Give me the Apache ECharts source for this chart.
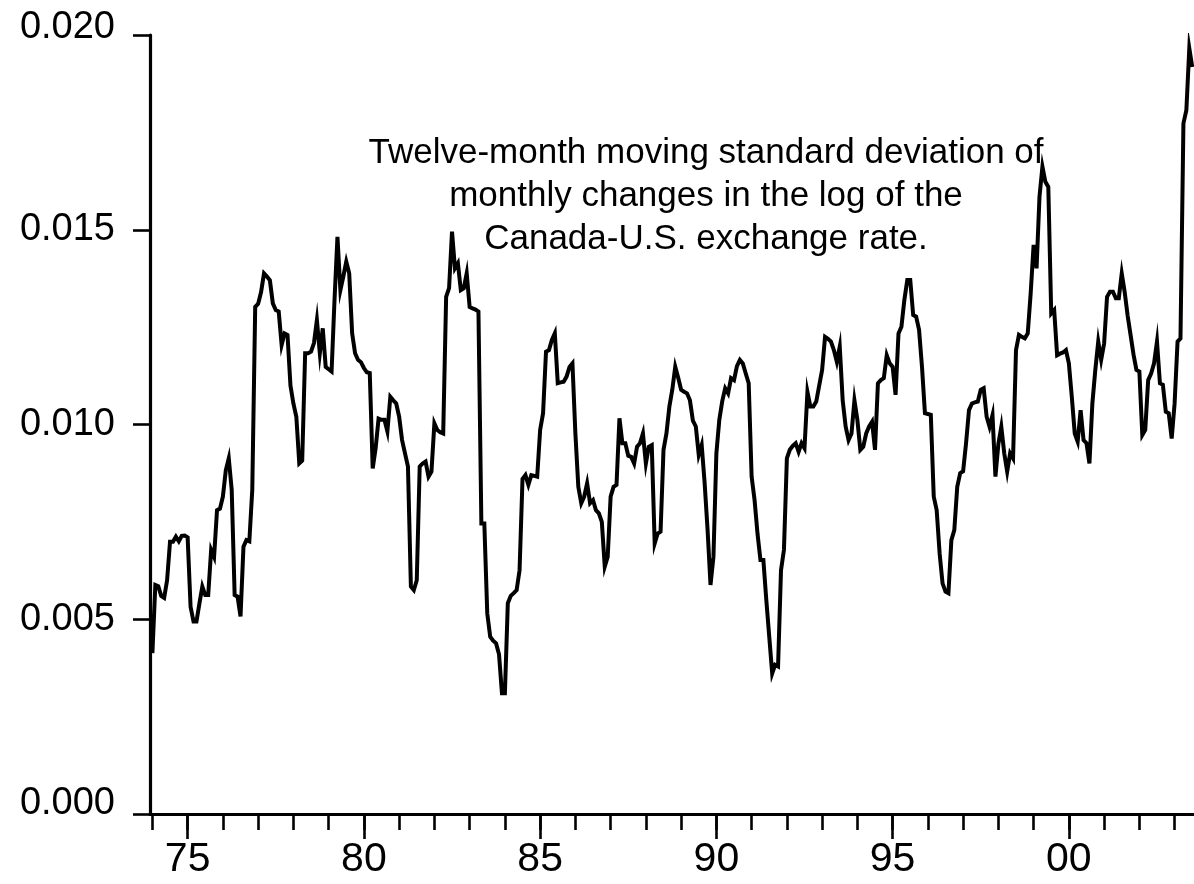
<!DOCTYPE html>
<html>
<head>
<meta charset="utf-8">
<script src="https://cdn.jsdelivr.net/npm/echarts@6/dist/echarts.min.js"></script>
<style>
html,body{margin:0;padding:0;background:#ffffff;}
#chart{width:1194px;height:884px;}
</style>
</head>
<body>
<div id="chart"></div>
<script>
// Monthly data, first observation 1974M1
const startYear = 1974;

// Twelve-month moving standard deviation
const stdev = [
0.00413,0.00588,0.00585,0.00560,0.00555,0.00600,0.00699,0.00699,0.00712,0.00700,0.00714,0.00715,
0.00710,0.00532,0.00494,0.00494,0.00540,0.00584,0.00562,0.00562,0.00678,0.00660,0.00780,0.00784,
0.00815,0.00883,0.00913,0.00832,0.00562,0.00558,0.00507,0.00686,0.00703,0.00700,0.00832,0.01302,
0.01310,0.01340,0.01388,0.01380,0.01370,0.01311,0.01294,0.01290,0.01204,0.01234,0.01230,0.01100,
0.01054,0.01020,0.00900,0.00907,0.01183,0.01183,0.01187,0.01209,0.01268,0.01183,0.01247,0.01148,
0.01142,0.01136,0.01320,0.01482,0.01345,0.01380,0.01418,0.01388,0.01234,0.01183,0.01166,0.01160,
0.01145,0.01134,0.01132,0.00887,0.00939,0.01015,0.01012,0.01012,0.00982,0.01071,0.01062,0.01054,
0.01020,0.00960,0.00926,0.00892,0.00584,0.00575,0.00600,0.00892,0.00900,0.00905,0.00866,0.00879,
0.01003,0.00986,0.00980,0.00977,0.01328,0.01350,0.01495,0.01401,0.01414,0.01345,0.01350,0.01388,
0.01302,0.01298,0.01295,0.01290,0.00746,0.00746,0.00515,0.00455,0.00445,0.00438,0.00410,0.00310,
0.00310,0.00541,0.00560,0.00567,0.00575,0.00626,0.00860,0.00870,0.00845,0.00870,0.00868,0.00866,
0.00986,0.01029,0.01187,0.01191,0.01217,0.01234,0.01106,0.01108,0.01110,0.01123,0.01148,0.01157,
0.00977,0.00840,0.00798,0.00815,0.00849,0.00798,0.00806,0.00780,0.00772,0.00750,0.00635,0.00660,
0.00815,0.00840,0.00845,0.01016,0.00952,0.00952,0.00920,0.00917,0.00900,0.00943,0.00952,0.00977,
0.00900,0.00943,0.00947,0.00695,0.00720,0.00725,0.00935,0.00977,0.01046,0.01090,0.01148,0.01120,
0.01089,0.01084,0.01080,0.01062,0.01010,0.00995,0.00922,0.00947,0.00850,0.00730,0.00588,0.00660,
0.00926,0.01012,0.01060,0.01093,0.01080,0.01119,0.01114,0.01150,0.01166,0.01157,0.01131,0.01106,
0.00866,0.00806,0.00720,0.00652,0.00652,0.00549,0.00455,0.00361,0.00383,0.00379,0.00626,0.00678,
0.00913,0.00935,0.00945,0.00952,0.00930,0.00952,0.00939,0.01084,0.01046,0.01046,0.01059,0.01100,
0.01140,0.01225,0.01220,0.01213,0.01191,0.01161,0.01200,0.01062,0.00995,0.00960,0.00977,0.01062,
0.01012,0.00935,0.00943,0.00977,0.00995,0.01007,0.00935,0.01106,0.01114,0.01119,0.01178,0.01157,
0.01148,0.01076,0.01234,0.01251,0.01320,0.01371,0.01371,0.01281,0.01277,0.01243,0.01148,0.01029,
0.01027,0.01025,0.00815,0.00780,0.00669,0.00592,0.00571,0.00567,0.00703,0.00729,0.00840,0.00875,
0.00880,0.00952,0.01037,0.01054,0.01057,0.01059,0.01089,0.01093,0.01020,0.00994,0.01024,0.00866,
0.00950,0.00994,0.00926,0.00879,0.00926,0.00913,0.01191,0.01230,0.01225,0.01221,0.01234,0.01337,
0.01461,0.01401,0.01585,0.01662,0.01623,0.01610,0.01285,0.01294,0.01178,0.01182,0.01185,0.01191,
0.01157,0.01071,0.00977,0.00956,0.01037,0.00960,0.00952,0.00900,0.01054,0.01140,0.01213,0.01166,
0.01208,0.01328,0.01341,0.01341,0.01324,0.01324,0.01388,0.01340,0.01280,0.01230,0.01180,0.01140,
0.01136,0.00973,0.00986,0.01114,0.01131,0.01157,0.01213,0.01106,0.01102,0.01033,0.01029,0.00964,
0.01054,0.01213,0.01221,0.01773,0.01807,0.01966,0.01918
];

// Axis ticks
const minorTickYears = [1974,1975,1976,1977,1978,1979,1980,1981,1982,1983,1984,1985,1986,1987,1988,
  1989,1990,1991,1992,1993,1994,1995,1996,1997,1998,1999,2000,2001,2002,2003];
const majorTickYears = [1975,1980,1985,1990,1995,2000];
const majorTickLabels = ['75','80','85','90','95','00'];
const yTickLabels = ['0.000','0.005','0.010','0.015','0.020'];

const noteLines = [
  'Twelve-month moving standard deviation of',
  'monthly changes in the log of the',
  'Canada-U.S. exchange rate.'
];

const FONT = '"Liberation Sans", Arial, Helvetica, sans-serif';
const xMin = 1973.932, xMax = 2003.55;

const seriesData = stdev.map((v, i) => [startYear + i / 12, v]);

const chart = echarts.init(document.getElementById('chart'), null, {renderer: 'canvas'});

const noteBaselineMid = [152.9, 196.2, 239.6];

const option = {
  animation: false,
  backgroundColor: '#ffffff',
  grid: {left: 150, right: 0, top: 35, bottom: 70, containLabel: false},
  xAxis: [
    {
      type: 'value', min: xMin, max: xMax, position: 'bottom',
      axisLine: {show: true, onZero: false, lineStyle: {color: '#000', width: 3.2}},
      axisTick: {show: true, inside: false, customValues: minorTickYears, length: 16,
                 lineStyle: {color: '#000', width: 2.6}},
      axisLabel: {show: false},
      splitLine: {show: false}
    },
    {
      type: 'value', min: xMin, max: xMax, position: 'bottom',
      axisLine: {show: false, onZero: false},
      axisTick: {show: true, inside: false, customValues: majorTickYears, length: 25,
                 lineStyle: {color: '#000', width: 2.6}},
      axisLabel: {
        show: true, customValues: majorTickYears, margin: 25,
        fontSize: 41, color: '#000', fontFamily: FONT,
        formatter: function (v) {
          const k = majorTickYears.indexOf(Math.round(v));
          return k >= 0 ? majorTickLabels[k] : '';
        }
      },
      splitLine: {show: false}
    }
  ],
  yAxis: {
    type: 'value', min: 0, max: 0.02, interval: 0.005,
    axisLine: {show: true, onZero: false, lineStyle: {color: '#000', width: 3.2}},
    axisTick: {show: true, inside: false, length: 17, lineStyle: {color: '#000', width: 2.6}},
    axisLabel: {
      margin: 35, fontSize: 38, color: '#000', fontFamily: FONT,
      formatter: function (v) {
        const k = Math.round(v / 0.005);
        const s = yTickLabels[k];
        if (k === 4) return '{t|' + s + '}';
        if (k === 0) return '{b|' + s + '}';
        return '{n|' + s + '}';
      },
      rich: {
        n: {fontSize: 38, fontFamily: FONT, color: '#000'},
        t: {fontSize: 38, fontFamily: FONT, color: '#000', padding: [0, 0, 14, 0]},
        b: {fontSize: 38, fontFamily: FONT, color: '#000', padding: [0, 0, 20, 0]}
      }
    },
    splitLine: {show: false}
  },
  graphic: noteLines.map((t, i) => ({
    type: 'text',
    x: 706, y: noteBaselineMid[i],
    style: {
      text: t, fill: '#000', font: '35px ' + FONT,
      textAlign: 'center', textVerticalAlign: 'middle'
    },
    z: 10
  })),
  series: [{
    type: 'line',
    xAxisIndex: 0, yAxisIndex: 0,
    data: seriesData,
    showSymbol: false,
    symbol: 'none',
    clip: true,
    lineStyle: {color: '#000', width: 4, join: 'miter'},
    z: 5
  }]
};

chart.setOption(option);
</script>
</body>
</html>
